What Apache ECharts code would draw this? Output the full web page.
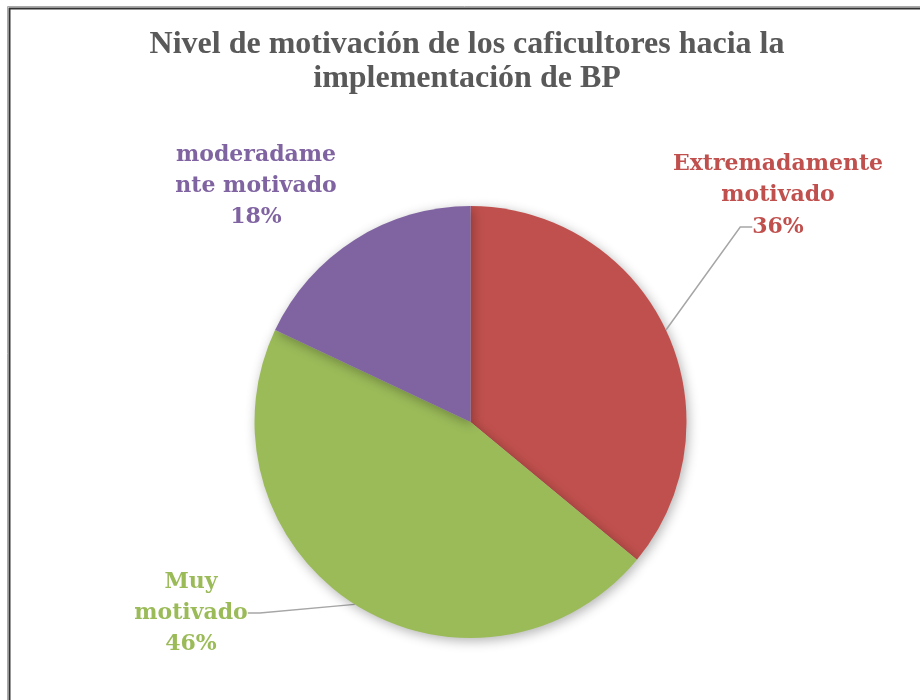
<!DOCTYPE html>
<html><head><meta charset="utf-8">
<script src="https://cdn.jsdelivr.net/npm/echarts@6/dist/echarts.min.js"></script>
<style>html,body{margin:0;padding:0;background:#fff}#c{width:920px;height:700px}</style>
</head><body><div id="c"></div>
<script>
const categories = ['Extremadamente\nmotivado', 'Muy\nmotivado', 'moderadame\nnte motivado'];
const values = [36, 46, 18];
const colors = ['#C0504D', '#9BBB59', '#8064A2'];
const titleText = 'Nivel de motivación de los caficultores hacia la\nimplementación de BP';

// label placement (name block / percentage)
const nameLabelPos = [
  {x: 778, y: 180, full: false, line: false},
  {x: 191, y: 613, full: true, line: true},
  {x: 256, y: 186, full: true, line: false}
];
const pctLabelPos = [{x: 778, y: 227}];

const fontBase = {fontFamily: 'DejaVu Serif', fontWeight: 'bold', fontSize: 22, lineHeight: 31, align: 'center', overflow: 'none'};
const pieBase = {type: 'pie', center: [470.5, 422], radius: 216, startAngle: 90, clockwise: true, emphasis: {disabled: true}};

const chart = echarts.init(document.getElementById('c'));
chart.setOption({
  animation: false,
  graphic: [
    {type: 'rect', shape: {x: 9.5, y: 8.5, width: 1000, height: 1000}, style: {fill: 'none', stroke: '#333', lineWidth: 2}},
    {type: 'rect', shape: {x: 7.5, y: 6.5, width: 1000, height: 1000}, style: {fill: 'none', stroke: '#aaa', lineWidth: 1}}
  ],
  title: {
    text: titleText, left: 462, top: 23, textAlign: 'center',
    textStyle: {fontFamily: 'Liberation Serif', fontWeight: 'bold', fontSize: 32, color: '#595959', lineHeight: 34}
  },
  series: [
    Object.assign({}, pieBase, {
      z: 2,
      data: categories.map((c, i) => ({name: c, value: values[i], itemStyle: {color: colors[i]},
        labelLine: {show: nameLabelPos[i].line},
        label: {color: colors[i]}})),
      itemStyle: {shadowBlur: 12, shadowColor: 'rgba(0,0,0,0.3)', shadowOffsetX: 2, shadowOffsetY: 3},
      label: Object.assign({show: true,
        formatter: p => nameLabelPos[p.dataIndex].full ? p.name + '\n' + p.value + '%' : p.name}, fontBase),
      labelLine: {show: true, length: 20, length2: 12, lineStyle: {color: '#A6A6A6', width: 1.5}},
      labelLayout: p => ({x: nameLabelPos[p.dataIndex].x, y: nameLabelPos[p.dataIndex].y, align: 'center', verticalAlign: 'middle'})
    }),
    Object.assign({}, pieBase, {
      z: 3, silent: true,
      data: categories.map((c, i) => ({name: c, value: values[i],
        label: {show: i < pctLabelPos.length, color: colors[i]},
        labelLine: {show: i < pctLabelPos.length}})),
      itemStyle: {color: 'rgba(0,0,0,0)'},
      label: Object.assign({formatter: p => p.value + '%'}, fontBase),
      labelLine: {length: 20, length2: 12, lineStyle: {color: '#A6A6A6', width: 1.5}},
      labelLayout: p => p.dataIndex < pctLabelPos.length ?
        ({x: pctLabelPos[p.dataIndex].x, y: pctLabelPos[p.dataIndex].y, align: 'center', verticalAlign: 'middle'}) : {}
    })
  ]
});
</script></body></html>
